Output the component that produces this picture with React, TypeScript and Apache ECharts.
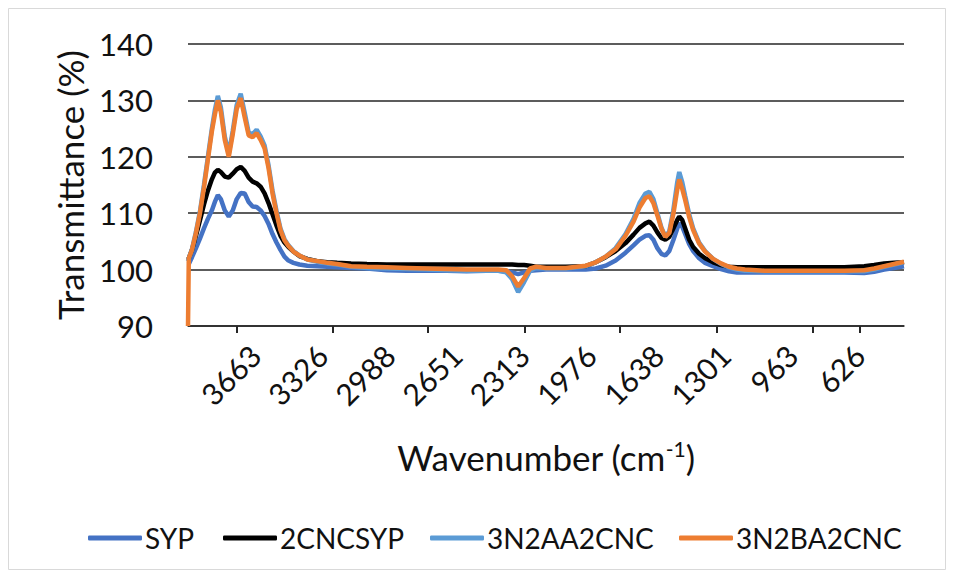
import React, { useEffect, useRef } from "react";
import * as echarts from "echarts";

const wavenumbers = [
  4000, 3996, 3980, 3960, 3940, 3920, 3900, 3880, 3865, 3850,
  3835, 3815, 3795, 3775, 3755, 3735, 3715, 3695, 3675, 3655,
  3635, 3615, 3595, 3575, 3555, 3535, 3515, 3495, 3470, 3440,
  3400, 3350, 3300, 3250, 3180, 3100, 3000, 2900, 2800, 2700,
  2600, 2500, 2440, 2400, 2370, 2340, 2310, 2280, 2250, 2200,
  2100, 2000, 1950, 1900, 1850, 1800, 1760, 1730, 1700, 1680,
  1660, 1640, 1620, 1600, 1580, 1560, 1540, 1530, 1515, 1500,
  1480, 1460, 1430, 1400, 1360, 1320, 1280, 1240, 1200, 1100,
  1000, 900, 800, 700, 600, 550, 500, 450, 400,
];

const sypValues = [
  101, 101, 102.2, 103.8, 105.5, 107.3, 109, 110.5, 112, 113.2,
  112.5, 110.5, 109.4, 110.5, 112.5, 113.6, 113.5, 112, 111.2, 111.1,
  110.5, 109.5, 108.1, 106.3, 104.8, 103.5, 102.3, 101.6, 101.2, 100.9,
  100.7, 100.6, 100.5, 100.4, 100.3, 100.2, 99.9, 99.8, 99.8, 99.8,
  99.7, 99.8, 99.8, 99.7, 99.5, 99.2, 99.5, 99.8, 99.9, 100,
  100, 100, 100.2, 100.7, 101.6, 103, 104.3, 105.3, 106, 106.1,
  105.3, 103.8, 102.8, 102.5, 103.3, 105.2, 107.3, 108.2, 107.6, 106.3,
  104.5, 103.3, 102, 101.2, 100.6, 100.1, 99.7, 99.5, 99.5, 99.5,
  99.5, 99.5, 99.5, 99.5, 99.4, 99.6, 100, 100.3, 100.6,
];

const cncsypValues = [
  101.8, 102, 103.5, 106, 108.7, 111.5, 114, 116, 117.2, 117.7,
  117.3, 116.5, 116.3, 117, 117.8, 118.2, 117.5, 116.3, 115.6, 115.3,
  114.7, 113.5, 111.8, 109.8, 107.8, 106, 104.8, 104, 103.2, 102.4,
  101.9, 101.5, 101.3, 101.2, 101.1, 101, 100.9, 100.9, 100.9, 100.9,
  100.9, 100.9, 100.9, 100.9, 100.9, 100.8, 100.8, 100.7, 100.5, 100.5,
  100.5, 100.6, 101.3, 102.2, 103.3, 104.7, 106.2, 107.4, 108.2, 108.5,
  107.8, 106.6, 105.6, 105.3, 105.8, 107.3, 108.8, 109.4, 108.8, 107.3,
  105.3, 104, 102.8, 102, 101.3, 100.8, 100.5, 100.4, 100.4, 100.4,
  100.4, 100.4, 100.4, 100.4, 100.6, 100.8, 101.1, 101.2, 101.3,
];

const n2aaValues = [
  101.5, 102, 103.6, 106.7, 110.3, 115, 120, 125, 128.3, 130.8,
  128.8, 123.6, 120.5, 124.6, 129.2, 131.2, 127.8, 124.3, 124, 124.8,
  123.6, 122, 118.5, 114, 110.4, 107.3, 105.4, 104.3, 103.3, 102.5,
  101.8, 101.4, 101.1, 100.9, 100.5, 100.3, 100.2, 100.1, 100, 99.9,
  99.8, 99.8, 99.8, 99.5, 98.3, 96, 97.8, 99.8, 100.3, 100.2,
  100.2, 100.6, 101.3, 102.3, 103.8, 106.3, 109, 111.8, 113.5, 113.8,
  112.5, 110, 107.5, 105.8, 106.8, 110.5, 115.5, 117.3, 115.5, 113,
  109.8, 107.3, 104.8, 103.3, 101.9, 101, 100.4, 100, 99.8, 99.7,
  99.7, 99.7, 99.7, 99.7, 99.7, 100, 100.5, 100.9, 101.3,
];

const n2baValues = [
  90, 102, 103.5, 106.5, 110, 114.5, 119.5, 124.5, 127.5, 130,
  128, 123, 120, 124, 128.5, 130.4, 127, 123.8, 123.5, 124.2,
  123, 121.5, 118, 113.5, 110, 107, 105.2, 104.2, 103.2, 102.5,
  101.8, 101.5, 101.2, 101, 100.6, 100.5, 100.4, 100.3, 100.2, 100.1,
  100, 100, 100, 99.9, 98.8, 97, 98.5, 100.2, 100.5, 100.3,
  100.3, 100.7, 101.3, 102.3, 103.6, 106, 108.5, 111, 112.7, 113,
  111.8, 109.6, 107.3, 105.8, 106.5, 109.8, 114.2, 116, 114.3, 112.3,
  109.3, 107, 104.6, 103.2, 101.9, 101.1, 100.5, 100.2, 100, 99.8,
  99.8, 99.8, 99.8, 99.8, 99.9, 100.2, 100.6, 101, 101.4,
];

const seriesNames = ["SYP", "2CNCSYP", "3N2AA2CNC", "3N2BA2CNC"];
const seriesColors = ["#4472C4", "#000000", "#5B9BD5", "#ED7D31"];
const xLabelValues = [3663, 3326, 2988, 2651, 2313, 1976, 1638, 1301, 963, 626];
const xTickValues = [3754, 3271, 2793, 2306, 1828, 1340, 858, 621];
const legendLefts = [88, 223, 430, 679];

const FONT = "Lato, 'Liberation Sans', sans-serif";

export default function App() {
  const ref = useRef<HTMLDivElement>(null);

  useEffect(() => {
    const chart = echarts.init(ref.current!, null, { renderer: "svg" });
    const allValues = [sypValues, cncsypValues, n2aaValues, n2baValues];

    const option: any = {
      animation: false,
      backgroundColor: "#ffffff",
      textStyle: { fontFamily: FONT },
      grid: { left: 188, right: 50, top: 44, bottom: 252, containLabel: false },
      xAxis: {
        type: "value",
        inverse: true,
        min: 400,
        max: 4000,
        splitLine: { show: false },
        axisLine: { show: true, lineStyle: { color: "#262626", width: 1.5 } },
        axisTick: {
          show: true,
          customValues: xTickValues,
          length: 7,
          lineStyle: { color: "#262626", width: 2 },
        },
        axisLabel: {
          customValues: xLabelValues,
          formatter: (v: number) => String(v),
          rotate: 45,
          fontSize: 30,
          fontFamily: FONT,
          color: "#111",
          margin: 24,
        },
      },
      yAxis: {
        type: "value",
        min: 90,
        max: 140,
        interval: 10,
        axisLine: { show: false },
        axisTick: { show: false },
        splitLine: { show: true, lineStyle: { color: "#262626", width: 1.5 } },
        axisLabel: { fontSize: 31, fontFamily: FONT, color: "#111", margin: 35 },
      },
      legend: seriesNames.map((name, i) => ({
        data: [name],
        left: legendLefts[i],
        top: 524,
        padding: 0,
        icon: "roundRect",
        itemWidth: 54,
        itemHeight: 5,
        textStyle: { fontSize: 28, fontFamily: FONT, color: "#111", padding: [0, 0, 0, -2] },
      })),
      graphic: [
        {
          type: "rect",
          shape: { x: 8.5, y: 8.5, width: 937, height: 561 },
          style: { fill: "none", stroke: "#d9d9d9", lineWidth: 1 },
          silent: true,
          z: -10,
        },
        {
          type: "text",
          x: 70,
          y: 185,
          rotation: Math.PI / 2,
          style: {
            text: "Transmittance (%)",
            fontSize: 35,
            fontFamily: FONT,
            fill: "#111",
            align: "center",
            verticalAlign: "middle",
          },
        },
        {
          type: "text",
          x: 546,
          y: 457,
          style: {
            text: "{a|Wavenumber (cm}{s|-1}{a|)}",
            align: "center",
            verticalAlign: "middle",
            fill: "#111",
            rich: {
              a: { fontSize: 35, fontFamily: FONT, fill: "#111", color: "#111" },
              s: { fontSize: 21, fontFamily: FONT, fill: "#111", color: "#111", padding: [0, 0, 18, 0] },
            },
          },
        },
      ],
      series: seriesNames.map((name, i) => ({
        name,
        type: "line",
        showSymbol: false,
        symbol: "none",
        color: seriesColors[i],
        lineStyle: { color: seriesColors[i], width: 4.5 },
        data: wavenumbers.map((w, j) => [w, allValues[i][j]]),
        z: 2 + i,
      })),
    };

    chart.setOption(option);
    return () => chart.dispose();
  }, []);

  return (
    <div
      ref={ref}
      style={{ position: "absolute", left: 0, top: 0, width: 954, height: 578, background: "#fff" }}
    />
  );
}
